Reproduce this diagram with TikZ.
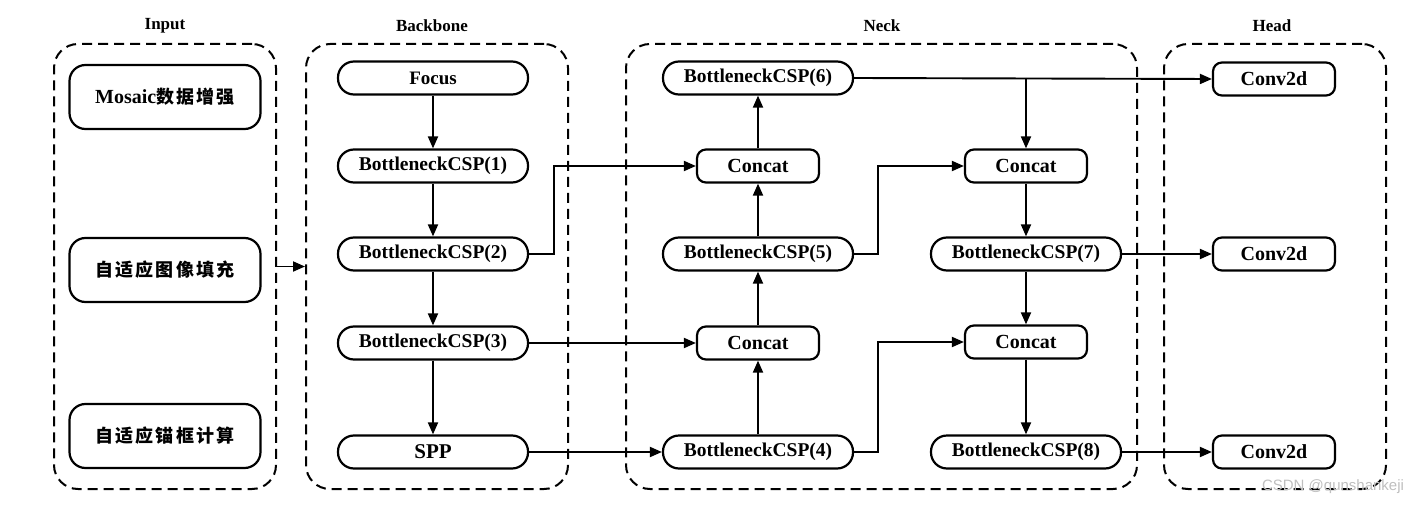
\documentclass[tikz,border=0pt]{standalone}
\usepackage{fontspec}
\setmainfont{Liberation Serif}
\newfontfamily\cjk[LetterSpace=12]{Noto Sans CJK SC}
\newfontfamily\wmfont{Liberation Sans}
\usetikzlibrary{arrows.meta}
\begin{document}
\begin{tikzpicture}[x=1pt,y=-1pt,
  grp/.style={draw, dash pattern=on 10pt off 6pt, line width=2pt, rounded corners=24pt,
              minimum width=#1, minimum height=445pt, inner sep=0pt},
  ttl/.style={font=\fontsize{17}{17}\selectfont\bfseries},
  pill/.style={draw, line width=2.2pt, rounded corners=16pt, minimum width=190pt,
               minimum height=33pt, inner sep=0pt, font=\fontsize{19.5}{19.5}\selectfont\bfseries},
  rbox/.style={draw, line width=2.2pt, rounded corners=9pt, minimum width=122pt,
               minimum height=33pt, inner sep=0pt, font=\fontsize{20}{20}\selectfont\bfseries},
  ibox/.style={draw, line width=2.2pt, rounded corners=16pt, minimum width=191pt,
               minimum height=64pt, inner sep=0pt, font=\fontsize{18}{18}\selectfont\bfseries},
  arr/.style={line width=1.9pt, -{Triangle[length=12pt,width=10pt]}},
  ln/.style={line width=1.9pt}
]
\useasboundingbox (0,0) rectangle (1423,505);

% groups
\node[grp=222pt] (gin) at (165,266.5) {};
\node[grp=262pt] (gbb) at (437,266.5) {};
\node[grp=511pt] (gnk) at (881.5,266.5) {};
\node[grp=222pt] (ghd) at (1275,266.5) {};
\node[ttl] (tin) at (165,26) {Input};
\node[ttl] (tbb) at (432,26) {Backbone};
\node[ttl] (tnk) at (882,26) {Neck};
\node[ttl] (thd) at (1272,26) {Head};

% input
\node[ibox] (i1) at (165,97) {{\fontsize{20}{20}\selectfont Mosaic}{\cjk 数据增强}};
\node[ibox] (i2) at (165,270) {\cjk 自适应图像填充};
\node[ibox] (i3) at (165,436) {\cjk 自适应锚框计算};

% backbone
\node[pill, font=\fontsize{19}{19}\selectfont\bfseries] (foc) at (433,78) {Focus};
\node[pill] (b1) at (433,166) {BottleneckCSP(1)};
\node[pill] (b2) at (433,254) {BottleneckCSP(2)};
\node[pill] (b3) at (433,343) {BottleneckCSP(3)};
\node[pill, font=\fontsize{21}{21}\selectfont\bfseries] (spp) at (433,452) {SPP};

% neck
\node[pill] (n6) at (758,78) {BottleneckCSP(6)};
\node[rbox] (c1) at (758,166) {Concat};
\node[pill] (n5) at (758,254) {BottleneckCSP(5)};
\node[rbox] (c2) at (758,343) {Concat};
\node[pill] (n4) at (758,452) {BottleneckCSP(4)};
\node[rbox] (c3) at (1026,166) {Concat};
\node[pill] (n7) at (1026,254) {BottleneckCSP(7)};
\node[rbox] (c4) at (1026,342) {Concat};
\node[pill] (n8) at (1026,452) {BottleneckCSP(8)};

% head
\node[rbox] (h1) at (1274,79) {Conv2d};
\node[rbox] (h2) at (1274,254) {Conv2d};
\node[rbox] (h3) at (1274,452) {Conv2d};

% connectors
\draw[arr] (gin.east) -- (gbb.west);
\draw[arr] (foc) -- (b1);
\draw[arr] (b1) -- (b2);
\draw[arr] (b2) -- (b3);
\draw[arr] (b3) -- (spp);
\draw[arr] (b2.east) -- ++(25,0) |- (c1.west);
\draw[arr] (b3.east) -- (c2.west);
\draw[arr] (spp.east) -- (n4.west);
\draw[arr] (n4) -- (c2);
\draw[arr] (c2) -- (n5);
\draw[arr] (n5) -- (c1);
\draw[arr] (c1) -- (n6);
\draw[arr] (n6.east) -- (h1.west);
\draw[arr] (n6.east -| c3.north) -- (c3.north);
\draw[arr] (n5.east) -- ++(24,0) |- (c3.west);
\draw[arr] (n4.east) -- ++(24,0) |- (c4.west);
\draw[arr] (c3) -- (n7);
\draw[arr] (n7) -- (c4);
\draw[arr] (c4) -- (n8);
\draw[arr] (n7.east) -- (h2.west);
\draw[arr] (n8.east) -- (h3.west);

% watermark
\node[font=\wmfont\fontsize{15}{15}\selectfont, text=gray!50] (wm) at (1333,487) {CSDN @qunshankeji};
\end{tikzpicture}
\end{document}
